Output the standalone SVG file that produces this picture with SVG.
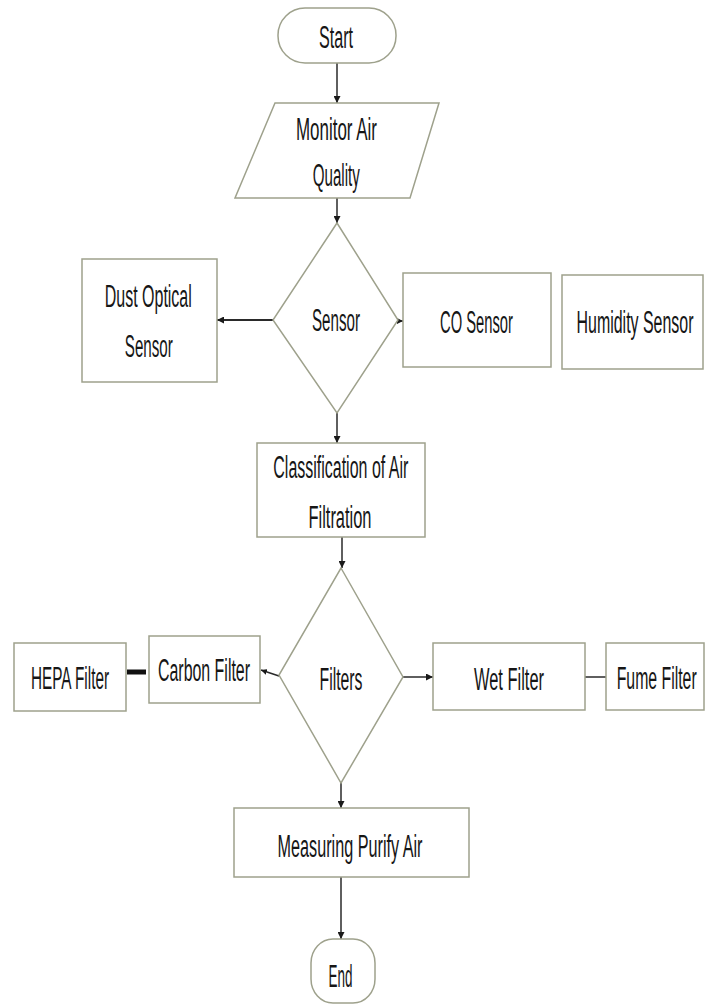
<svg xmlns="http://www.w3.org/2000/svg" width="709" height="1007" viewBox="0 0 709 1007">
<defs>
<style>
.shape{fill:#ffffff;stroke:#9ea18c;stroke-width:1.5}
.lbl{font-family:"Liberation Sans",Arial,sans-serif;font-size:31px;fill:#161616;text-anchor:middle}
.con{stroke:#2a2a2a;stroke-width:1.5;fill:none}
</style>
<marker id="ah" viewBox="0 0 10 10" refX="10" refY="5" markerWidth="7" markerHeight="7" markerUnits="userSpaceOnUse" orient="auto">
<path d="M0,0 L10,5 L0,10 z" fill="#1a1a1a"/>
</marker>
<marker id="ahs" viewBox="0 0 10 10" refX="10" refY="5" markerWidth="6" markerHeight="6" markerUnits="userSpaceOnUse" orient="auto">
<path d="M0,0 L10,5 L0,10 z" fill="#1a1a1a"/>
</marker>
</defs>
<rect width="709" height="1007" fill="#ffffff"/>
<g id="connectors">
<line class="con" x1="337" y1="63" x2="337" y2="103" marker-end="url(#ah)"/>
<line class="con" x1="337" y1="198" x2="337" y2="223" marker-end="url(#ah)"/>
<line class="con" x1="273" y1="320" x2="217" y2="320" style="stroke-width:2" marker-end="url(#ah)"/>
<line class="con" x1="396" y1="321" x2="403" y2="321" marker-end="url(#ahs)"/>
<line class="con" x1="337" y1="413" x2="337" y2="443" marker-end="url(#ah)"/>
<line class="con" x1="342" y1="537" x2="342" y2="568" marker-end="url(#ah)"/>
<line class="con" x1="279" y1="676" x2="261" y2="670" marker-end="url(#ahs)"/>
<line class="con" x1="127" y1="672" x2="146" y2="672" style="stroke-width:5;stroke:#111"/>
<line class="con" x1="403" y1="677" x2="433" y2="677" marker-end="url(#ah)"/>
<line class="con" x1="585" y1="677" x2="606" y2="677"/>
<line class="con" x1="341" y1="783" x2="341" y2="808" marker-end="url(#ah)"/>
<line class="con" x1="341" y1="877" x2="341" y2="939" marker-end="url(#ah)"/>
</g>
<g id="start">
<rect class="shape" x="278" y="8" width="118" height="55" rx="27" ry="27"/>
<text class="lbl" x="336" y="48" textLength="34" lengthAdjust="spacingAndGlyphs">Start</text>
</g>
<g id="monitor">
<polygon class="shape" points="275,103 439,103 410,198 235,198"/>
<text class="lbl" x="336.5" y="140" textLength="81" lengthAdjust="spacingAndGlyphs">Monitor Air</text>
<text class="lbl" x="336.3" y="186" textLength="47" lengthAdjust="spacingAndGlyphs">Quality</text>
</g>
<g id="sensor">
<polygon class="shape" points="337,223 398,320 337,413 273,320"/>
<text class="lbl" x="336" y="331" textLength="48" lengthAdjust="spacingAndGlyphs">Sensor</text>
</g>
<g id="dust">
<rect class="shape" x="82" y="259" width="135" height="123"/>
<text class="lbl" x="148.3" y="307" textLength="87" lengthAdjust="spacingAndGlyphs">Dust Optical</text>
<text class="lbl" x="148.8" y="357" textLength="48" lengthAdjust="spacingAndGlyphs">Sensor</text>
</g>
<g id="co">
<rect class="shape" x="403" y="273" width="148" height="94"/>
<text class="lbl" x="476.5" y="333" textLength="73" lengthAdjust="spacingAndGlyphs">CO Sensor</text>
</g>
<g id="humidity">
<rect class="shape" x="562" y="275" width="141" height="94"/>
<text class="lbl" x="635" y="333" textLength="117" lengthAdjust="spacingAndGlyphs">Humidity Sensor</text>
</g>
<g id="classification">
<rect class="shape" x="257" y="443" width="168" height="94"/>
<text class="lbl" x="340.8" y="478" textLength="135" lengthAdjust="spacingAndGlyphs">Classification of Air</text>
<text class="lbl" x="340" y="528" textLength="63" lengthAdjust="spacingAndGlyphs">Filtration</text>
</g>
<g id="filters">
<polygon class="shape" points="341,568 403,677 341,783 279,675"/>
<text class="lbl" x="341" y="690" textLength="43" lengthAdjust="spacingAndGlyphs">Filters</text>
</g>
<g id="carbon">
<rect class="shape" x="149" y="636" width="111" height="67"/>
<text class="lbl" x="204" y="681" textLength="92" lengthAdjust="spacingAndGlyphs">Carbon Filter</text>
</g>
<g id="hepa">
<rect class="shape" x="14" y="643" width="112" height="68"/>
<text class="lbl" x="70" y="689" textLength="78" lengthAdjust="spacingAndGlyphs">HEPA Filter</text>
</g>
<g id="wet">
<rect class="shape" x="433" y="643" width="152" height="67"/>
<text class="lbl" x="509" y="690" textLength="70" lengthAdjust="spacingAndGlyphs">Wet Filter</text>
</g>
<g id="fume">
<rect class="shape" x="606" y="643" width="98" height="67"/>
<text class="lbl" x="656.7" y="689" textLength="80" lengthAdjust="spacingAndGlyphs">Fume Filter</text>
</g>
<g id="measuring">
<rect class="shape" x="234" y="808" width="235" height="69"/>
<text class="lbl" x="350" y="857" textLength="145" lengthAdjust="spacingAndGlyphs">Measuring Purify Air</text>
</g>
<g id="end">
<rect class="shape" x="311" y="939" width="64" height="64" rx="22" ry="24"/>
<text class="lbl" x="340.5" y="987" textLength="24" lengthAdjust="spacingAndGlyphs">End</text>
</g>
</svg>
